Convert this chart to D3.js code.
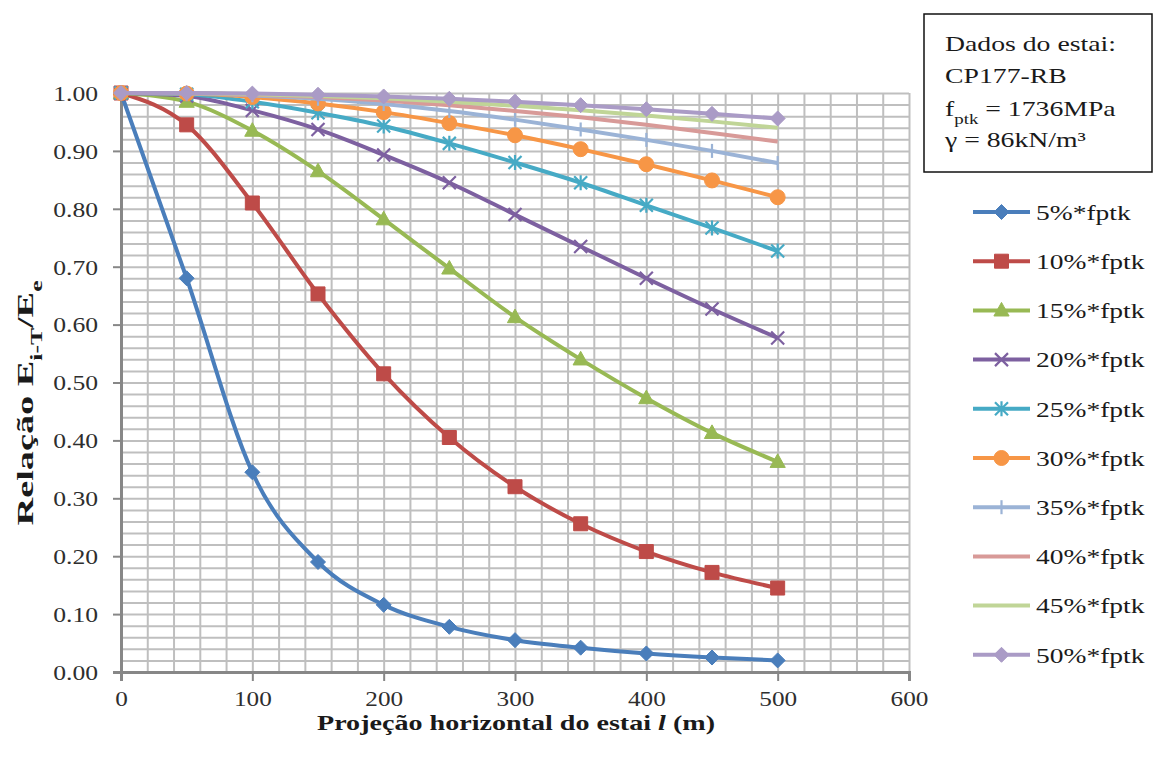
<!DOCTYPE html>
<html>
<head>
<meta charset="utf-8">
<script src="https://cdn.jsdelivr.net/npm/d3@7"></script>
<style>
  body { margin: 0; background: #fff; }
</style>
</head>
<body>
<div id="chart"></div>
<script>

// data
var xValues = [0, 50, 100, 150, 200, 250, 300, 350, 400, 450, 500];
var seriesNames = ['5%*fptk', '10%*fptk', '15%*fptk', '20%*fptk', '25%*fptk',
                   '30%*fptk', '35%*fptk', '40%*fptk', '45%*fptk', '50%*fptk'];
var s05 = [1.00, 0.68, 0.345, 0.19, 0.116, 0.078, 0.055, 0.042, 0.032, 0.025, 0.020];
var s10 = [1.00, 0.945, 0.81, 0.653, 0.515, 0.405, 0.32, 0.256, 0.208, 0.172, 0.145];
var s15 = [1.00, 0.985, 0.935, 0.865, 0.782, 0.697, 0.613, 0.54, 0.473, 0.413, 0.363];
var s20 = [1.00, 0.995, 0.97, 0.937, 0.893, 0.845, 0.79, 0.735, 0.68, 0.627, 0.577];
var s25 = [1.00, 0.998, 0.985, 0.966, 0.943, 0.913, 0.88, 0.845, 0.806, 0.767, 0.727];
var s30 = [1.00, 0.999, 0.993, 0.982, 0.967, 0.948, 0.927, 0.903, 0.877, 0.849, 0.82];
var s35 = [1.00, 0.999, 0.996, 0.99, 0.981, 0.969, 0.954, 0.937, 0.919, 0.90, 0.879];
var s40 = [1.00, 1.00, 0.997, 0.993, 0.987, 0.979, 0.969, 0.958, 0.945, 0.931, 0.916];
var s45 = [1.00, 1.00, 0.998, 0.995, 0.991, 0.985, 0.978, 0.97, 0.961, 0.951, 0.94];
var s50 = [1.00, 1.00, 0.999, 0.997, 0.994, 0.99, 0.985, 0.979, 0.972, 0.964, 0.956];
var xTicks = [0, 100, 200, 300, 400, 500, 600];
var yTicks = [0, 0.1, 0.2, 0.3, 0.4, 0.5, 0.6, 0.7, 0.8, 0.9, 1.0];
var infoLines = ['Dados do estai:', 'CP177-RB'];


function renderLineChart(params) {
    // exposed variables
    var attrs = {
        svgWidth: 1157,
        svgHeight: 762,
        marginTop: 93,
        marginBottom: 90,
        marginRight: 248,
        marginLeft: 121,
        fontFamily: '"Liberation Serif", "Times New Roman", "DejaVu Serif", serif',
        data: null
    };

    var attrKeys = Object.keys(attrs);
    attrKeys.forEach(function (key) {
        if (params && params[key]) {
            attrs[key] = params[key];
        }
    });

    var colors = ['#4a7ebb', '#be4b48', '#98b954', '#7d60a0', '#46aac5',
                  '#f79646', '#9bb3d6', '#d89a98', '#c0d597', '#aa9bc6'];
    var shapes = ['diamond', 'square', 'triangle', 'cross', 'star', 'circle', 'bar', 'none', 'none', 'diamond'];

    // marker paths
    function markerPath(shape) {
        var r;
        switch (shape) {
            case 'diamond': r = 7.5; return 'M0,' + (-r) + 'L' + r + ',0L0,' + r + 'L' + (-r) + ',0Z';
            case 'square': r = 7; return 'M' + (-r) + ',' + (-r) + 'H' + r + 'V' + r + 'H' + (-r) + 'Z';
            case 'triangle': r = 8; return 'M0,' + (-r) + 'L' + (r * 0.95) + ',' + (r * 0.7) + 'L' + (-r * 0.95) + ',' + (r * 0.7) + 'Z';
            case 'circle': r = 7.5; return d3.arc()({innerRadius: 0, outerRadius: r, startAngle: 0, endAngle: 2 * Math.PI});
            case 'cross': r = 6.5; return 'M' + (-r) + ',' + (-r) + 'L' + r + ',' + r + 'M' + (-r) + ',' + r + 'L' + r + ',' + (-r);
            case 'star': r = 6.5; return 'M' + (-r) + ',' + (-r) + 'L' + r + ',' + r + 'M' + (-r) + ',' + r + 'L' + r + ',' + (-r) + 'M0,' + (-r - 1) + 'L0,' + (r + 1);
            case 'bar': r = 7; return 'M0,' + (-r) + 'L0,' + r;
        }
        return null;
    }
    function isOpen(shape) { return shape === 'cross' || shape === 'star' || shape === 'bar'; }

    // the scanned figure has wide glyphs, so stretch text horizontally
    function stretch(sel, k) {
        sel.each(function () {
            var len = this.getComputedTextLength();
            this.setAttribute('textLength', len * k);
            this.setAttribute('lengthAdjust', 'spacingAndGlyphs');
        });
    }

    var main = function (selection) {
        selection.each(function () {

            var calc = {};
            calc.chartWidth = attrs.svgWidth - attrs.marginRight - attrs.marginLeft;
            calc.chartHeight = attrs.svgHeight - attrs.marginBottom - attrs.marginTop;

            var svg = d3.select(this)
                .append('svg')
                .attr('width', attrs.svgWidth)
                .attr('height', attrs.svgHeight);

            var chart = svg.append('g')
                .attr('transform', 'translate(' + attrs.marginLeft + ',' + attrs.marginTop + ')');

            var x = d3.scaleLinear().domain([0, 600]).range([0, calc.chartWidth]);
            var y = d3.scaleLinear().domain([0, 1]).range([calc.chartHeight, 0]);

            // grid
            chart.append('g')
                .attr('class', 'grid')
                .attr('transform', 'translate(0,' + calc.chartHeight + ')')
                .call(d3.axisBottom(x).tickValues(d3.range(20, 601, 20)).tickSize(-calc.chartHeight).tickFormat(''))
                .call(g => g.select('.domain').remove());
            chart.append('g')
                .attr('class', 'grid')
                .call(d3.axisLeft(y).tickValues(d3.range(1, 51).map(d => d * 0.02)).tickSize(-calc.chartWidth).tickFormat(''))
                .call(g => g.select('.domain').remove());
            chart.selectAll('.grid line').attr('stroke', '#bfbfbf').attr('stroke-width', 2);

            // axes
            var xAxis = chart.append('g')
                .attr('transform', 'translate(0,' + calc.chartHeight + ')')
                .call(d3.axisBottom(x).tickValues(xTicks).tickSize(9).tickPadding(10).tickFormat(d3.format('d')));
            var yAxis = chart.append('g')
                .call(d3.axisLeft(y).tickValues(yTicks).tickSize(8).tickPadding(15).tickFormat(d3.format('.2f')));
            [xAxis, yAxis].forEach(function (ax) {
                ax.select('.domain').attr('stroke', '#878787').attr('stroke-width', 3);
                ax.selectAll('.tick line').attr('stroke', '#878787').attr('stroke-width', 2);
                ax.selectAll('.tick text')
                    .attr('fill', '#2e2e2e')
                    .style('font-family', attrs.fontFamily)
                    .style('font-size', '21px');
            });
            yAxis.selectAll('.tick text').attr('dy', '0.35em');
            stretch(xAxis.selectAll('.tick text'), 1.2);
            stretch(yAxis.selectAll('.tick text'), 1.22);

            // lines
            var line = d3.line()
                .x(function (d) { return x(d.x); })
                .y(function (d) { return y(d.y); })
                .curve(d3.curveMonotoneX);

            var series = chart.selectAll('.series')
                .data(attrs.data)
                .enter()
                .append('g')
                .attr('class', 'series');

            series.append('path')
                .attr('d', function (d) { return line(d.values); })
                .attr('fill', 'none')
                .attr('stroke', function (d, i) { return colors[i]; })
                .attr('stroke-width', 4);

            series.each(function (s, i) {
                var p = markerPath(shapes[i]);
                if (!p) return;
                d3.select(this).selectAll('.marker')
                    .data(s.values)
                    .enter()
                    .append('path')
                    .attr('transform', function (d) { return 'translate(' + x(d.x) + ',' + y(d.y) + ')'; })
                    .attr('d', p)
                    .attr('fill', isOpen(shapes[i]) ? 'none' : colors[i])
                    .attr('stroke', colors[i])
                    .attr('stroke-width', isOpen(shapes[i]) ? 2.2 : 1);
            });

            // axis titles
            var yTitle = svg.append('text')
                .attr('transform', 'translate(33,403) rotate(-90)')
                .attr('text-anchor', 'middle')
                .style('font-family', attrs.fontFamily)
                .style('font-size', '24px')
                .style('font-weight', 'bold')
                .attr('fill', '#1a1a1a');
            yTitle.append('tspan').text('Relação E');
            yTitle.append('tspan').text('i-T').attr('baseline-shift', 'sub').style('font-size', '16px');
            yTitle.append('tspan').text('/E');
            yTitle.append('tspan').text('e').attr('baseline-shift', 'sub').style('font-size', '16px');
            yTitle.attr('textLength', 245).attr('lengthAdjust', 'spacingAndGlyphs');

            var xTitle = svg.append('text')
                .attr('x', 516)
                .attr('y', 730)
                .attr('text-anchor', 'middle')
                .style('font-family', attrs.fontFamily)
                .style('font-size', '22px')
                .style('font-weight', 'bold')
                .attr('fill', '#1a1a1a');
            xTitle.append('tspan').text('Projeção horizontal do estai ');
            xTitle.append('tspan').text('l').style('font-style', 'italic');
            xTitle.append('tspan').text(' (m)');
            xTitle.attr('textLength', 398).attr('lengthAdjust', 'spacingAndGlyphs');

            // legend
            var legend = svg.append('g').attr('transform', 'translate(973,212)');
            var item = legend.selectAll('.item')
                .data(attrs.data)
                .enter()
                .append('g')
                .attr('transform', function (d, i) { return 'translate(0,' + (i * 49.2) + ')'; });
            item.append('line')
                .attr('x1', 0).attr('x2', 57)
                .attr('stroke', function (d, i) { return colors[i]; })
                .attr('stroke-width', 4);
            item.each(function (d, i) {
                var p = markerPath(shapes[i]);
                if (!p) return;
                d3.select(this).append('path')
                    .attr('transform', 'translate(28.5,0)')
                    .attr('d', p)
                    .attr('fill', isOpen(shapes[i]) ? 'none' : colors[i])
                    .attr('stroke', colors[i])
                    .attr('stroke-width', isOpen(shapes[i]) ? 2.2 : 1);
            });
            var legendText = item.append('text')
                .attr('x', 63)
                .attr('dy', '0.35em')
                .style('font-family', attrs.fontFamily)
                .style('font-size', '22px')
                .attr('fill', '#1a1a1a')
                .text(function (d) { return d.name; });
            stretch(legendText, 1.25);

            // info box
            var box = svg.append('g');
            box.append('rect')
                .attr('x', 924).attr('y', 14)
                .attr('width', 228).attr('height', 158)
                .attr('fill', '#fff')
                .attr('stroke', '#111')
                .attr('stroke-width', 1.5);
            var boxLines = [];
            infoLines.forEach(function (t, i) {
                boxLines.push(box.append('text').attr('y', 51 + i * 32).text(t));
            });
            var fLine = box.append('text').attr('y', 116);
            fLine.append('tspan').text('f');
            fLine.append('tspan').text('ptk').attr('baseline-shift', 'sub').style('font-size', '15px');
            fLine.append('tspan').text(' = 1736MPa');
            boxLines.push(fLine);
            boxLines.push(box.append('text').attr('y', 147).text('γ = 86kN/m³'));
            boxLines.forEach(function (t) {
                t.attr('x', 945)
                    .style('font-family', attrs.fontFamily)
                    .style('font-size', '22px')
                    .attr('fill', '#1a1a1a');
                stretch(t, 1.26);
            });

        });
    };

    main.data = function (value) {
        if (!arguments.length) return attrs.data;
        attrs.data = value;
        return main;
    };

    return main;
}

var allValues = [s05, s10, s15, s20, s25, s30, s35, s40, s45, s50];
var chartData = seriesNames.map(function (name, i) {
    return {
        name: name,
        values: xValues.map(function (xv, j) { return { x: xv, y: allValues[i][j] }; })
    };
});

var chart = renderLineChart().data(chartData);
d3.select('#chart').call(chart);

</script>
</body>
</html>
